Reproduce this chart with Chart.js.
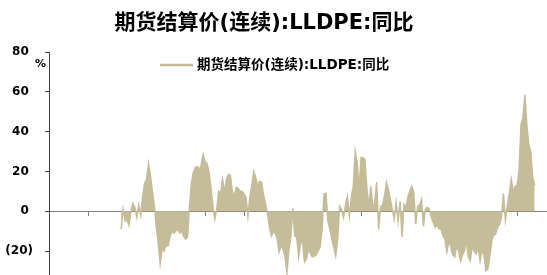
<!DOCTYPE html>
<html lang="zh">
<head>
    <meta charset="UTF-8">
    <title>期货结算价(连续):LLDPE:同比</title>
    <script src="https://cdn.jsdelivr.net/npm/chart.js"></script>
    <style>
        body {
            margin: 0;
            overflow: hidden;
            background: #fff;
        }
        canvas {
            display: block;
        }
    </style>
</head>
<body>
    <canvas id="yoyChart" width="570" height="310"></canvas>

    <script>
        const chartTitle = '期货结算价(连续):LLDPE:同比';
        const seriesName = '期货结算价(连续):LLDPE:同比';
        const unitLabel = '%';

        // y ticks run from (40) up to 80, every 20
        const yTicks = [-40, -20, 0, 20, 40, 60, 80];
        // period index where the series starts, and the last period on the axis
        const firstPeriod = 37;
        const lastPeriod = 262;

        // year-on-year change, %
        const yoy = [
            -9, 1, -5, -4, -7, 0, 4, 2, -3, 3,
            -2, 7, 14, 16, 24, 18, 10, 3, -8, -16,
            -26.5, -19, -20, -17, -17.5, -13, -10, -11, -10, -9,
            -11, -10, -12.5, -14, -13, 2, 14, 19.5, 22, 22.5,
            21, 23, 28.5, 25, 24, 20, 12, 3, -4, 1,
            10, 9, 16, 9.5, 16, 18.5, 18, 10, 7.5, 12,
            11.5, 10, 10, 8.5, 7, -2.5, 7.5, 13, 20, 17,
            12.5, 15, 14.5, 8, 4, -1, -8, -12.5, -10.5, -11,
            -14, -20.5, -17, -19, -23, -31, -19, -13, 1.5, -12.5,
            -13, -23, -16, -15.5, -25.5, -24, -19, -21, -23, -22.5,
            -22, -20, -18, -9, 8.5, 9, -5, -9, -14, -18,
            -22.5, -14, 2.5, 1, -3, 3, 7.5, -2.5, 7, 12.5,
            30, 24.5, 11, 27, 27, 26, 11, 2.5, 12.5, 2.5,
            4, 14.5, -9, 2.5, 3, 7.5, 14.5, 11, 6, 1,
            -4, 4.5, -5, 5, -13, 3.5, 2, 7, 10, 12.5,
            10, -6.5, 2.5, 3, 6, -7.5, 1, 2, 1, -3,
            -5.5, -8, -7, -9, -9, -12.5, -14, -20.5, -15, -18,
            -22, -23, -17.5, -20, -25, -22, -20, -15, -23, -25,
            -18, -20, -21.5, -18, -25, -20, -22, -30, -29, -23,
            -15, -12, -11.5, -8, -6.5, -3, 9, -4.5, 3, 9,
            16, 10, 12.5, 13, 20, 43.5, 47, 58.5, 43.5, 33.5,
            30, 17, 13
        ];

        const fillColor = '#C5BD99';
        const fontStack = "'DejaVu Sans', 'Noto Sans CJK SC', sans-serif";

        const points = yoy.map((v, i) => ({ x: firstPeriod + i, y: v }));

        // title, legend and the % unit are drawn where the original has them
        const textPlugin = {
            id: 'chartText',
            afterDraw(chart) {
                const ctx = chart.ctx;
                ctx.save();
                ctx.fillStyle = '#000';
                ctx.textBaseline = 'middle';
                ctx.textAlign = 'center';
                ctx.font = 'bold 21px ' + fontStack;
                ctx.fillText(chartTitle, 264, 24);

                ctx.strokeStyle = fillColor;
                ctx.lineWidth = 2.5;
                ctx.beginPath();
                ctx.moveTo(160, 65);
                ctx.lineTo(193, 65);
                ctx.stroke();
                ctx.textAlign = 'left';
                ctx.font = 'bold 13.5px ' + fontStack;
                ctx.fillText(seriesName, 197, 65);

                ctx.font = 'bold 11px ' + fontStack;
                ctx.fillText(unitLabel, 35, 64);
                ctx.restore();
            }
        };

        const ctx = document.getElementById('yoyChart').getContext('2d');
        const yoyChart = new Chart(ctx, {
            type: 'line',
            data: {
                datasets: [{
                    label: seriesName,
                    data: points,
                    borderColor: fillColor,
                    backgroundColor: fillColor,
                    borderWidth: 1.5,
                    pointRadius: 0,
                    tension: 0,
                    fill: 'origin'
                }]
            },
            options: {
                responsive: false,
                animation: false,
                layout: {
                    padding: { left: 0, top: 52, right: 10, bottom: 18 }
                },
                plugins: {
                    legend: { display: false },
                    title: { display: false },
                    tooltip: { enabled: false }
                },
                scales: {
                    x: {
                        type: 'linear',
                        position: { y: 0 },
                        min: 0,
                        max: lastPeriod,
                        ticks: { display: false, stepSize: 20 },
                        grid: {
                            drawOnChartArea: false,
                            drawTicks: true,
                            tickLength: 4,
                            color: '#808080'
                        },
                        border: { color: '#808080', width: 1 }
                    },
                    y: {
                        min: yTicks[0],
                        max: yTicks[yTicks.length - 1],
                        afterFit(scale) { scale.width = 49; },
                        afterBuildTicks(scale) {
                            scale.ticks = yTicks.map(v => ({ value: v }));
                        },
                        ticks: {
                            padding: 12,
                            color: '#000',
                            font: { family: fontStack, size: 12, weight: 'bold' },
                            callback: v => v < 0 ? '(' + (-v) + ')' : v + ' '
                        },
                        grid: {
                            drawOnChartArea: false,
                            drawTicks: true,
                            tickLength: 4,
                            color: '#404040'
                        },
                        border: { color: '#404040', width: 1 }
                    }
                }
            },
            plugins: [textPlugin]
        });
    </script>
</body>
</html>
